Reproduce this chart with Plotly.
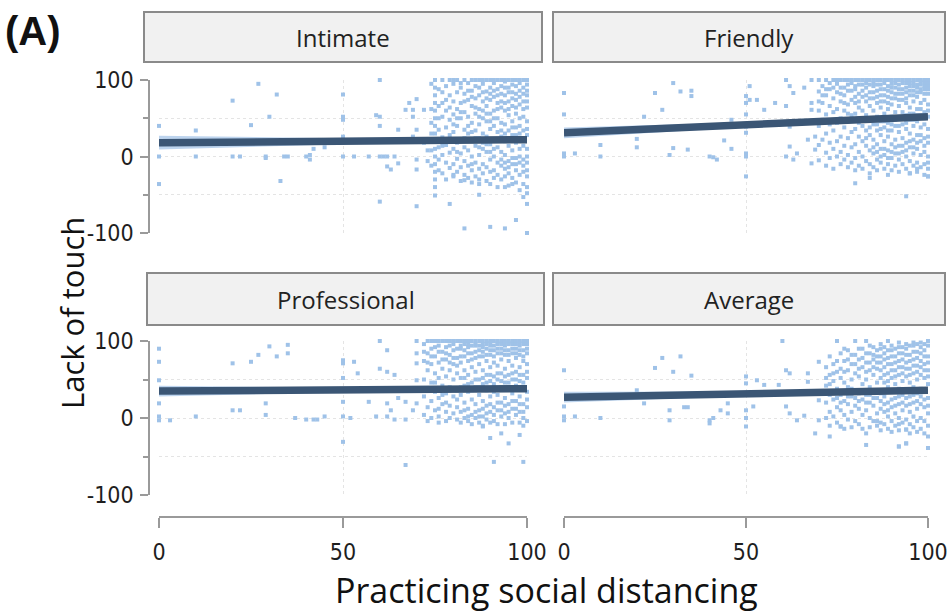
import plotly.graph_objects as go

W, H = 950, 614


def px(x):
    return x / W


def py(y):
    return 1 - y / H


PANELS = ["Intimate", "Friendly", "Professional", "Average"]
X_TICKS = [0, 50, 100]
X_TICK_TEXT = ["0", "50", "100"]
Y_TICKS = [-100, 0, 100]
Y_TICK_TEXT = ["-100", "0", "100"]
Y_MINOR = [-50, 50]

# ---- sparse points (x = practicing social distancing, y = lack of touch)
INTIMATE_PTS = [(0, 40), (0, 0), (0, -36), (10, 34), (10, 0), (20, 73), (20, 0), (22, 0), (25, 41), (27, 95),
                (30, 52), (32, 81), (29, 0), (29, -2), (33, -32), (34, 0), (35, 0), (40, 0), (41, -4), (41, 2),
                (42, 10), (45, 12), (50, 81), (50, 52), (50, 48), (50, 26), (50, 0), (53, 0), (57, 0), (60, 100),
                (60, 0), (61, 0), (62, 0), (60, -59), (59, 54), (60, 52), (60, 40), (62, -13), (63, -17), (64, 0),
                (65, -9), (65, 35), (67, 61), (68, 70), (70, 75), (69, 61), (69, 52), (70, 35), (69, 26), (70, -4),
                (70, -17), (70, -65), (72, 61), (72, 18), (73, 8), (73, -6), (75, -40), (75, -51), (79, -62),
                (80, -24), (83, -31), (83, -94), (87, -50), (90, -92), (94, -94), (97, -83), (99, -53), (100, -62),
                (100, -100), (94, -40), (96, -36), (87, -36)]
FRIENDLY_PTS = [(0, 83), (0, 55), (0, 4), (0, 0), (3, 4), (10, 15), (10, 0), (20, 23), (20, 12), (22, 52), (25, 83),
                (27, 61), (29, 2), (30, 11), (30, 96), (32, 85), (35, 86), (35, 79), (34, 9), (40, 0), (41, -1),
                (42, -4), (44, 21), (46, 10), (46, 48), (50, 4), (50, 0), (50, 70), (50, 55), (50, 39), (50, 31),
                (50, -26), (51, 92), (50, 79), (51, 74), (53, 74), (55, 61), (58, 70), (61, 100), (62, 92), (63, 83),
                (61, 66), (62, 39), (62, 13), (61, 0), (63, -4), (64, 4), (66, 90), (68, 100), (68, 70), (68, 61),
                (67, 22), (68, -9), (69, 26), (69, 9), (80, -35), (84, -28), (94, -52), (95, -22), (97, -16),
                (100, -26)]
PROFESSIONAL_PTS = [(0, 90), (0, 73), (0, 49), (0, 19), (0, 2), (0, -3), (3, -3), (10, 2), (20, 71), (20, 10),
                    (22, 10), (25, 73), (27, 82), (30, 93), (32, 80), (35, 95), (35, 84), (29, 19), (29, 4), (37, 0),
                    (40, -2), (42, -2), (43, -2), (45, 2), (50, 71), (50, 52), (50, 21), (50, 2), (50, -31), (50, 75),
                    (53, 73), (54, 58), (52, 0), (57, 21), (60, 64), (62, 60), (60, 100), (62, 88), (59, 2), (62, 2),
                    (64, -2), (67, -2), (62, 19), (63, 10), (67, -61), (64, 56), (65, 26), (67, 21), (69, 10),
                    (70, 100), (70, 84), (70, 71), (70, 49), (70, 19), (88, -11), (90, -26), (93, -20), (95, -33),
                    (98, -22), (91, -57), (99, -57), (75, 100), (79, 100), (82, 100), (84, 100)]
AVERAGE_PTS = [(0, 62), (0, 15), (0, 2), (0, -3), (3, 2), (10, 0), (20, 36), (22, 19), (25, 65), (27, 78), (30, 60),
               (32, 80), (35, 55), (29, 10), (29, -3), (33, 14), (34, 14), (40, -3), (40, -7), (41, 0), (43, 10),
               (45, 19), (45, 6), (50, 54), (50, 45), (50, 10), (50, 0), (50, -11), (52, 15), (53, 49), (55, 43),
               (59, 43), (61, 62), (62, 58), (60, 100), (61, 15), (62, 6), (64, -3), (66, 3), (67, 58), (67, 47),
               (69, -20), (73, -24), (70, 73), (70, 23), (70, -3), (76, -11), (92, -37), (94, -33), (100, -39),
               (94, -15)]

# ---- dense clouds: one column per x value, with the y values read in that column
INTIMATE_COL_X = list(range(74, 101))
INTIMATE_COL_Y = [
    [95, 62, 44, 30, 8, -12],
    [100, 90, 80, 70, 60, 50, 40, 30, 20, 10, 0, -10, -20, -30],
    [88, 66, 50, 35, 12, -4, -18],
    [100, 84, 70, 52, 25, 14, 2, -22],
    [92, 74, 60, 38, 15, -8, -30],
    [100, 80, 64, 48, 28, 5, -15],
    [100, 95, 72, 55, 42, 32, 10, -10, -26],
    [100, 84, 62, 50, 40, 18, 6, -3, -20],
    [96, 90, 70, 58, 50, 22, 4, -14, -32],
    [100, 82, 72, 58, 35, 24, 12, -6, -24],
    [96, 86, 74, 52, 40, 30, 8, -12, -28],
    [100, 86, 78, 66, 44, 32, 20, 0, -10, -18, -34],
    [100, 92, 76, 64, 56, 34, 24, 14, -8, -26],
    [100, 90, 80, 62, 52, 42, 24, 12, 2, -16, -30],
    [100, 95, 84, 72, 60, 50, 30, 18, 10, -10, -22],
    [100, 85, 76, 66, 56, 46, 26, 16, 6, -14, -32],
    [100, 90, 82, 74, 56, 46, 36, 16, 6, -4, -20, -36],
    [100, 96, 86, 78, 60, 50, 40, 22, 10, 0, -18, -28],
    [100, 88, 80, 70, 62, 50, 32, 22, 12, -8, -24, -40],
    [100, 92, 82, 72, 64, 44, 34, 26, 6, -4, -12, -30],
    [100, 98, 90, 80, 70, 60, 42, 30, 20, 2, -8, -16, -26],
    [100, 90, 84, 72, 62, 54, 34, 24, 14, -6, -14, -22, -38],
    [100, 94, 84, 76, 66, 46, 38, 28, 8, -2, -10, -28],
    [100, 92, 82, 74, 64, 56, 38, 28, 18, -2, -10, -18, -34],
    [100, 96, 86, 78, 68, 50, 40, 30, 10, 0, -8, -24, -44],
    [100, 90, 82, 72, 62, 52, 34, 24, 14, -4, -12, -20, -36],
    [100, 94, 86, 80, 72, 64, 46, 36, 28, 10, 0, -8, -18, -26, -40, -48],
]
FRIENDLY_COL_X = list(range(70, 101))
FRIENDLY_COL_Y = [
    [100, 85, 72, 60, 40, 15, -5],
    [92, 80, 70, 48, 22],
    [100, 88, 80, 55, 30, 5, -12],
    [96, 88, 66, 42, 18, -2],
    [100, 90, 76, 58, 34, 10, -16],
    [100, 95, 84, 62, 44, 20, 0],
    [100, 90, 82, 72, 50, 26, 6, -10],
    [100, 90, 80, 70, 60, 38, 14, -4],
    [100, 94, 86, 68, 56, 46, 24, 2, -14],
    [100, 96, 86, 74, 54, 32, 12, -8],
    [100, 92, 88, 78, 70, 56, 36, 16, -2, -18],
    [100, 94, 82, 72, 64, 44, 26, 6, -12],
    [100, 94, 86, 78, 60, 50, 40, 20, 0, -16],
    [100, 96, 90, 80, 72, 54, 34, 24, 14, -6],
    [100, 94, 84, 76, 66, 48, 38, 28, 8, -10, -22],
    [100, 96, 92, 84, 76, 60, 50, 42, 22, 12, 4, -14],
    [100, 94, 86, 78, 70, 52, 42, 34, 16, 6, -4, -18],
    [100, 94, 88, 80, 72, 64, 46, 36, 28, 10, 0, -8],
    [100, 96, 88, 80, 72, 56, 46, 38, 20, 10, 2, -16],
    [100, 92, 86, 78, 70, 62, 44, 34, 26, 8, -2, -10, -24],
    [100, 95, 90, 84, 76, 68, 52, 42, 34, 16, 6, -2, -18],
    [100, 96, 90, 82, 76, 58, 48, 40, 22, 12, 4, -12],
    [100, 94, 88, 82, 74, 66, 50, 40, 32, 14, 4, -4, -20],
    [100, 96, 88, 82, 74, 58, 50, 42, 24, 14, 6, -10],
    [100, 96, 90, 84, 76, 70, 54, 44, 36, 18, 8, 0, -16],
    [100, 96, 92, 86, 80, 64, 56, 48, 30, 20, 12, -6, -22],
    [100, 96, 92, 86, 80, 72, 56, 48, 40, 22, 12, 4, -12],
    [100, 94, 90, 84, 78, 62, 54, 46, 28, 18, 10, -8, -20],
    [100, 98, 94, 88, 84, 70, 62, 54, 38, 28, 20, 2, -14],
    [100, 96, 92, 88, 82, 74, 58, 50, 42, 24, 14, 6, -10, -24],
    [100, 96, 92, 88, 82, 68, 60, 52, 36, 26, 18, 0, -8, -16, -26],
]
PROFESSIONAL_COL_X = list(range(72, 101))
PROFESSIONAL_COL_Y = [
    [96, 86, 74, 50, 38, 28, 4],
    [100, 84, 72, 62, 38, 14, -4],
    [100, 90, 80, 70, 46, 22, 0],
    [100, 92, 80, 58, 46, 34, 10],
    [100, 94, 86, 72, 52, 26, 12, 2, -6],
    [100, 86, 76, 64, 42, 30, 18],
    [100, 92, 84, 76, 54, 32, 20, 8, -4],
    [100, 94, 82, 72, 62, 40, 16, 0],
    [100, 96, 88, 78, 70, 50, 38, 28, 6],
    [100, 90, 78, 68, 58, 36, 24, 14, -2],
    [100, 94, 90, 80, 72, 52, 40, 30, 8, -6],
    [100, 96, 88, 80, 62, 52, 42, 20, 10, 0],
    [100, 96, 92, 84, 74, 56, 44, 34, 12, 2, -4],
    [100, 94, 84, 76, 66, 46, 36, 24, 4, -8],
    [100, 96, 94, 86, 78, 60, 50, 40, 18, 8, 0],
    [100, 94, 88, 80, 70, 50, 40, 30, 10, 2, -6],
    [100, 96, 92, 86, 80, 62, 52, 44, 22, 12, 2, -10],
    [100, 96, 90, 82, 74, 56, 46, 36, 16, 6, -2],
    [100, 98, 94, 88, 82, 66, 56, 48, 28, 18, 8, -6],
    [100, 94, 88, 80, 72, 54, 44, 34, 14, 4, -4],
    [100, 98, 96, 90, 84, 68, 58, 50, 30, 20, 10, -8],
    [100, 96, 90, 84, 76, 58, 48, 40, 20, 10, 2],
    [100, 98, 94, 88, 82, 64, 54, 46, 26, 16, 6, -8],
    [100, 96, 88, 82, 74, 56, 46, 38, 18, 8, 0],
    [100, 98, 96, 90, 84, 68, 58, 50, 32, 22, 12, -6],
    [100, 96, 90, 84, 78, 60, 50, 42, 22, 12, 4],
    [100, 98, 94, 88, 82, 66, 56, 48, 28, 18, 8, -6],
    [100, 96, 88, 80, 74, 56, 46, 38, 18, 8, 0, -10],
    [100, 98, 96, 90, 84, 70, 60, 52, 34, 24, 14, -4],
]
AVERAGE_COL_X = list(range(72, 101))
AVERAGE_COL_Y = [
    [66, 52, 42, 20, 0],
    [80, 56, 44, 30, 8, -10],
    [70, 58, 48, 24, 2],
    [100, 74, 60, 38, 26, 14, -6],
    [84, 64, 52, 30, 20, 10, -11],
    [90, 74, 60, 46, 22, 4, -14],
    [88, 76, 62, 40, 28, 18, -2],
    [82, 70, 50, 38, 28, 8, -12],
    [100, 82, 70, 58, 36, 26, 16, -4],
    [90, 76, 64, 54, 32, 22, 12, -8],
    [90, 78, 66, 44, 34, 24, 4, -14],
    [100, 84, 72, 60, 50, 30, 20, 10, -20, -35],
    [94, 84, 72, 62, 40, 30, 20, 0, -12],
    [92, 82, 76, 66, 56, 36, 26, 16, -4],
    [88, 80, 72, 64, 46, 36, 26, 6, -4, -10],
    [96, 90, 80, 72, 62, 52, 32, 22, 12, -6, -16],
    [92, 84, 76, 66, 56, 46, 28, 18, 8, -8],
    [100, 88, 78, 70, 58, 48, 40, 20, 10, 2, -14],
    [94, 88, 80, 70, 62, 52, 34, 24, 14, -4, -18],
    [90, 80, 72, 62, 54, 44, 26, 16, 6, -10],
    [98, 92, 84, 74, 66, 56, 38, 28, 18, 0, -8, -16, -37],
    [92, 84, 76, 66, 58, 48, 30, 20, 10, -6],
    [96, 90, 82, 72, 64, 54, 36, 26, 16, -2, -15, -33],
    [94, 82, 74, 64, 56, 46, 28, 18, 8, -8, -20],
    [98, 94, 86, 76, 68, 58, 40, 30, 20, 2, -12],
    [96, 86, 78, 68, 60, 50, 32, 22, 12, -4, -18],
    [98, 92, 84, 74, 66, 56, 38, 28, 18, 0, -14],
    [96, 88, 80, 70, 62, 52, 34, 24, 14, -4, -20],
    [100, 94, 80, 72, 62, 54, 44, 26, 16, 6, -10, -24, -39],
]

# ---- fitted lines and confidence bands
FIT_X = [0, 100]
INTIMATE_FIT = [18, 22]
FRIENDLY_FIT = [31, 52]
PROFESSIONAL_FIT = [35, 38]
AVERAGE_FIT = [27, 36]
BAND_X = [0, 50, 85, 100]
INTIMATE_HI = [27, 24, 23.5, 25]
INTIMATE_LO = [9, 16, 19.5, 19]
FRIENDLY_HI = [38, 44.5, 50.5, 54]
FRIENDLY_LO = [24, 38.5, 47.3, 50]
PROFESSIONAL_HI = [42, 39.5, 39, 40.5]
PROFESSIONAL_LO = [28, 33.5, 36, 35.5]
AVERAGE_HI = [34, 34.5, 36, 37.5]
AVERAGE_LO = [20, 28.5, 33.4, 34.5]

PT_COLOR = "#9fc2e8"
BAND_COLOR = "rgba(178,205,235,0.85)"
LINE_COLOR = "#3b5675"
GRID_COLOR = "#e4e4e4"
AXIS_COLOR = "#9a9a9a"
TICK_FONT = dict(family="DejaVu Sans Condensed, Liberation Sans Narrow, Arial Narrow, sans-serif",
                 size=23, color="#1e1e1e")
TEXT_FONT = "Open Sans, Noto Sans, sans-serif"

panel_data = [
    (INTIMATE_PTS, INTIMATE_COL_X, INTIMATE_COL_Y, INTIMATE_FIT, INTIMATE_LO, INTIMATE_HI),
    (FRIENDLY_PTS, FRIENDLY_COL_X, FRIENDLY_COL_Y, FRIENDLY_FIT, FRIENDLY_LO, FRIENDLY_HI),
    (PROFESSIONAL_PTS, PROFESSIONAL_COL_X, PROFESSIONAL_COL_Y, PROFESSIONAL_FIT, PROFESSIONAL_LO, PROFESSIONAL_HI),
    (AVERAGE_PTS, AVERAGE_COL_X, AVERAGE_COL_Y, AVERAGE_FIT, AVERAGE_LO, AVERAGE_HI),
]

fig = go.Figure()
for i, (pts, colx, coly, fit, lo, hi) in enumerate(panel_data):
    xa = "x" if i == 0 else f"x{i + 1}"
    ya = "y" if i == 0 else f"y{i + 1}"
    xs = [p[0] for p in pts] + [c for c, col in zip(colx, coly) for _ in col]
    ys = [p[1] for p in pts] + [v for col in coly for v in col]
    fig.add_trace(go.Scatter(x=xs, y=ys, mode="markers", xaxis=xa, yaxis=ya, cliponaxis=False,
                             marker=dict(size=4, symbol="square", color=PT_COLOR, line=dict(width=0)),
                             hoverinfo="skip", showlegend=False))
    fig.add_trace(go.Scatter(x=BAND_X + BAND_X[::-1], y=hi + lo[::-1], mode="lines", fill="toself",
                             fillcolor=BAND_COLOR, line=dict(width=0), xaxis=xa, yaxis=ya,
                             hoverinfo="skip", showlegend=False))
    fig.add_trace(go.Scatter(x=FIT_X, y=fit, mode="lines", line=dict(color=LINE_COLOR, width=7.5),
                             xaxis=xa, yaxis=ya, hoverinfo="skip", showlegend=False))

x_dom = {0: [px(159), px(527)], 1: [px(564), px(928)]}
y_dom = {0: [py(233), py(80)], 1: [py(495), py(341)]}

layout = dict(width=W, height=H, margin=dict(l=0, r=0, t=0, b=0, autoexpand=False), paper_bgcolor="white",
              plot_bgcolor="white", showlegend=False)

for i in range(4):
    col, row = i % 2, i // 2
    xk = "xaxis" if i == 0 else f"xaxis{i + 1}"
    yk = "yaxis" if i == 0 else f"yaxis{i + 1}"
    ya = "y" if i == 0 else f"y{i + 1}"
    xa = "x" if i == 0 else f"x{i + 1}"
    xaxis = dict(domain=x_dom[col], range=[0, 100], tickvals=X_TICKS, ticktext=X_TICK_TEXT, zeroline=False,
                 automargin=False, showgrid=True, gridcolor=GRID_COLOR, griddash="dot", gridwidth=1)
    if row == 1:
        xaxis.update(anchor="free", position=py(517), showline=True, linecolor=AXIS_COLOR, linewidth=1.5,
                     ticks="outside", ticklen=10, tickcolor=AXIS_COLOR, tickwidth=1.5,
                     showticklabels=True, tickfont=TICK_FONT, ticklabelstandoff=5)
    else:
        xaxis.update(anchor=ya, showline=False, ticks="", showticklabels=False)
    yaxis = dict(domain=y_dom[row], range=[-100, 100], tickvals=Y_TICKS, ticktext=Y_TICK_TEXT, zeroline=False,
                 automargin=False, showgrid=True, gridcolor=GRID_COLOR, griddash="dot", gridwidth=1,
                 minor=dict(tickvals=Y_MINOR, showgrid=True, gridcolor=GRID_COLOR, griddash="dot",
                            ticks="outside" if col == 0 else "", ticklen=5, tickcolor=AXIS_COLOR))
    if col == 0:
        yaxis.update(anchor="free", position=px(149), showline=True, linecolor=AXIS_COLOR, linewidth=1.5,
                     ticks="outside", ticklen=8, tickcolor=AXIS_COLOR, tickwidth=1.5,
                     showticklabels=True, tickfont=TICK_FONT, ticklabelstandoff=2)
    else:
        yaxis.update(anchor=xa, showline=False, ticks="", showticklabels=False)
    layout[xk] = xaxis
    layout[yk] = yaxis

fig.update_layout(**layout)

# facet strips
strips = [(144, 542, 12, 62), (553, 945, 12, 62), (147, 544, 273, 325), (553, 945, 273, 325)]
for name, (x0, x1, y0, y1) in zip(PANELS, strips):
    fig.add_shape(type="rect", xref="paper", yref="paper", x0=px(x0), x1=px(x1), y0=py(y1), y1=py(y0),
                  fillcolor="#f1f1f1", line=dict(color="#8a8a8a", width=2), layer="below")
    fig.add_annotation(text=name, xref="paper", yref="paper", x=px((x0 + x1) / 2), y=py((y0 + y1) / 2),
                       showarrow=False, font=dict(family=TEXT_FONT, size=24, color="#222"),
                       xanchor="center", yanchor="middle")

fig.add_annotation(text="<b>(A)</b>", xref="paper", yref="paper", x=px(3), y=py(31), showarrow=False,
                   xanchor="left", yanchor="middle",
                   font=dict(family="Liberation Sans, Arial, sans-serif", size=40, color="#111"))
fig.add_annotation(text="Lack of touch", xref="paper", yref="paper", x=px(72), y=py(313), showarrow=False,
                   textangle=-90, xanchor="center", yanchor="middle",
                   font=dict(family=TEXT_FONT, size=31, color="#111"))
fig.add_annotation(text="Practicing social distancing", xref="paper", yref="paper", x=px(546), y=py(590),
                   showarrow=False, xanchor="center", yanchor="middle",
                   font=dict(family=TEXT_FONT, size=34, color="#111"))

fig.write_html("out.html")
